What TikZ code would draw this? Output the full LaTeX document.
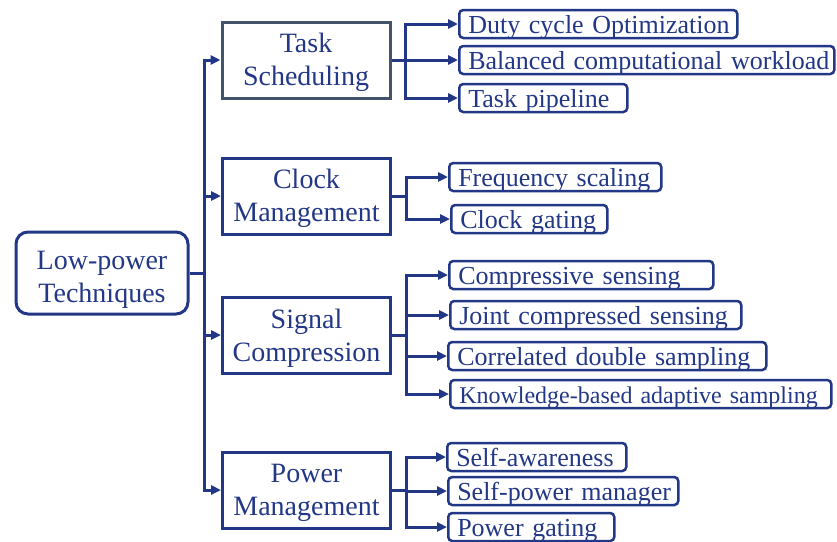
\documentclass[tikz,border=0pt]{standalone}
\usepackage{fontspec}
\setmainfont{Liberation Serif}
\usetikzlibrary{arrows.meta,positioning}
\definecolor{navy}{RGB}{35,55,135}
\definecolor{slate}{RGB}{68,84,106}

\begin{document}
\begin{tikzpicture}[x=1pt,y=-1pt,
        rootbox/.style={
            draw=navy,
            line width=3pt,
            rounded corners=12pt,
            text=navy,
            align=center,
            minimum width=172pt,
            minimum height=82pt,
            font=\fontsize{28}{33}\selectfont},
        midbox/.style={
            draw=navy,
            line width=3pt,
            text=navy,
            align=center,
            minimum width=168pt,
            minimum height=76pt,
            font=\fontsize{28}{33}\selectfont},
        leafbox/.style={
            draw=navy,
            line width=2.5pt,
            rounded corners=4pt,
            text=navy,
            anchor=west,
            align=left,
            minimum height=28pt,
            inner xsep=9pt,
            inner ysep=0pt,
            text height=22pt,
            text depth=4pt,
            font=\fontsize{26}{28}\selectfont},
        wide/.style={},
        narrow/.style={font=\fontsize{24}{28}\selectfont},
        myarrow/.style={-{Triangle[length=10pt,width=9pt]},draw=navy,line width=3pt}
        ]
        \useasboundingbox (0,0) rectangle (837,541);

        \node[rootbox] (root) at (102,273) {\rule{0pt}{31pt}Low-power\\Techniques};
        \node[midbox,draw=slate] (task) at (306,60) {\rule{0pt}{25pt}Task\\Scheduling};
        \node[midbox] (clock) at (306.5,196) {\rule{0pt}{25pt}Clock\\Management};
        \node[midbox] (signal) at (306.5,335) {\rule{0pt}{25pt}Signal\\Compression};
        \node[midbox] (power) at (306.5,490) {\rule{0pt}{25pt}Power\\Management};

        \foreach \n/\x/\y/\r/\s/\txt in {% name/left/middle/right/style/text
            duty/458/24/736/wide/{Duty cycle Optimization},
            bal/458/60/833/wide/{Balanced computational workload},
            pipe/458/98/626/wide/{Task pipeline},
            freq/448/177/660/wide/{Frequency scaling},
            cgate/450/219/606/wide/{Clock gating},
            comp/448/275/712/wide/{Compressive sensing},
            joint/449/315/740/wide/{Joint compressed sensing},
            corr/447/356/765/wide/{Correlated double sampling},
            know/449/394/830/narrow/{Knowledge-based adaptive sampling},
            aware/446/457/625/wide/{Self-awareness},
            mgr/447/491/677/wide/{Self-power manager},
            pgate/447/527/613/wide/{Power gating}}
            {
            \pgfmathsetmacro{\tw}{\r-\x-18}
            \node[leafbox,\s,text width=\tw pt] (\n) at (\x,\y) {\mbox{\txt}};
            }

        \foreach \m in {task,clock,signal,power}
            \draw[myarrow] (root.east) -- ++(15,0) |- (\m.west);

        \foreach \m/\l in {task/duty,task/bal,task/pipe,
            clock/freq,clock/cgate,
            signal/comp,signal/joint,signal/corr,signal/know,
            power/aware,power/mgr,power/pgate}
            \draw[myarrow] (\m.east) -- ++(14,0) |- (\l.west);
\end{tikzpicture}
\end{document}
